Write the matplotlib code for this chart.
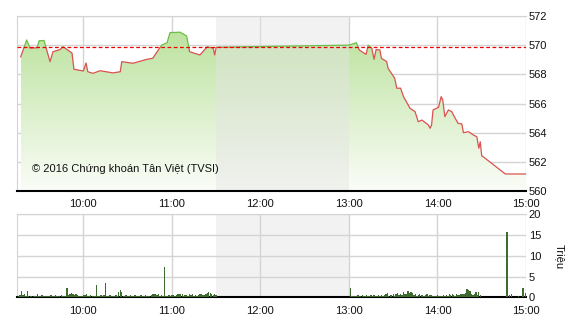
import matplotlib
matplotlib.use('Agg')
import matplotlib.pyplot as plt
from matplotlib.colors import LinearSegmentedColormap
import numpy as np

plt.rcParams['font.family'] = ['Liberation Sans', 'DejaVu Sans']

# index (VN-Index) intraday, time "HH:MM" (decimal minutes allowed)
price_times = ["09:17.5", "09:21.6", "09:23.8", "09:28.6", "09:30", "09:33.3", "09:37.4",
               "09:39.4", "09:44.2", "09:46.2", "09:52.3", "09:53.6", "10:00", "10:01.8",
               "10:03", "10:06.5", "10:11.3", "10:20", "10:25", "10:26", "10:33.6",
               "10:43", "10:47", "10:53", "10:56.7", "10:58.7", "11:05.5", "11:10",
               "11:12", "11:19", "11:24", "11:28", "11:29", "11:30",
               "13:00", "13:05", "13:07", "13:11.6", "13:13", "13:15.5", "13:17",
               "13:18.4", "13:21", "13:22", "13:25.6", "13:26.5", "13:31", "13:32.4",
               "13:35", "13:37", "13:41.4", "13:44.8", "13:47", "13:49.4", "13:53.8",
               "13:55", "13:56", "13:57", "14:00.7", "14:02.5", "14:03.6", "14:05",
               "14:07.4", "14:09.7", "14:12", "14:14", "14:16.5", "14:17.6", "14:21",
               "14:24.4", "14:26.7", "14:28", "14:29", "14:30", "14:31", "14:46", "15:00"]
price_values = [569.2, 570.36, 569.8, 569.82, 570.3, 570.32, 568.87,
                569.55, 569.7, 569.9, 569.46, 568.35, 568.23, 568.78,
                568.18, 568.07, 568.25, 568.1, 568.18, 568.87, 568.76,
                569.03, 569.1, 570.0, 570.17, 570.86, 570.89, 570.63,
                569.55, 569.33, 569.9, 569.79, 569.33, 569.86,
                570.0, 570.17, 569.67, 569.37, 570.0, 569.79, 569.03,
                569.7, 569.67, 569.1, 568.87, 568.42, 567.73, 567.05,
                567.05, 566.47, 565.67, 565.44, 564.75, 564.87, 564.53,
                564.3, 564.53, 565.56, 565.74, 566.47, 566.24, 565.1,
                565.56, 565.44, 564.99, 564.64, 564.6, 564.0, 564.07,
                563.84, 563.72, 562.93, 563.38, 562.4, 562.35, 561.17, 561.17]
ref_value = 569.86

# volume (million shares) per minute
vol_morning_start = "09:16"
vol_morning = [0.4, 0.6, 1.5, 0.5, 0.7, 0.3, 1.5, 0.3, 0.4, 0.3, 0.4, 0.3, 0.4, 0.8, 0.3,
               0.4, 0.5, 0.3, 0.4, 0.3, 0.4, 0.3, 0.5, 0.3, 0.4, 0.6, 0.3, 0.4, 0.3, 0.5,
               0.4, 0.3, 0.4, 2.2, 0.6, 0.9, 1.0, 0.8, 0.6, 0.9, 0.5, 0.3, 0.4, 0.3, 0.5,
               0.6, 0.8, 0.4, 0.3, 0.5, 0.4, 0.3, 0.4, 3.0, 0.4, 0.3, 0.5, 0.4, 0.6, 3.4,
               0.4, 0.3, 0.5, 0.4, 0.3, 0.4, 0.5, 0.4, 1.3, 1.8, 1.4, 0.4, 0.3, 0.5, 0.4,
               0.3, 0.6, 0.4, 0.3, 0.5, 0.4, 0.3, 0.4, 0.6, 0.3, 0.4, 0.5, 0.3, 0.4, 0.3,
               0.5, 0.8, 0.7, 0.9, 0.6, 0.8, 0.3, 0.5, 0.4, 7.2, 0.4, 0.3, 0.5, 0.4, 0.6,
               0.5, 0.4, 0.6, 0.8, 0.9, 0.8, 0.7, 0.4, 0.6, 0.5, 0.3, 0.7, 0.5, 0.9, 0.4,
               0.6, 0.3, 0.5, 0.7, 0.8, 0.5, 0.6, 0.9, 1.1, 1.2, 1.0, 0.8, 0.6, 0.7, 0.5]
vol_afternoon_start = "13:01"
vol_afternoon = [2.3, 0.4, 0.3, 0.4, 0.3, 0.5, 0.3, 0.4, 0.6, 0.3, 0.4, 0.5, 0.3, 0.4, 0.6,
                 0.3, 0.5, 0.4, 0.3, 0.6, 0.4, 0.5, 0.3, 0.6, 0.9, 1.1, 0.4, 0.6, 0.5, 0.8,
                 0.4, 0.7, 1.0, 0.5, 0.8, 0.6, 1.3, 0.7, 0.9, 1.5, 1.0, 1.2, 1.0, 0.5, 0.7,
                 0.4, 0.6, 0.8, 0.5, 0.6, 0.4, 0.5, 0.7, 0.4, 0.6, 0.5, 0.3, 0.4, 0.3, 0.5,
                 0.4, 0.3, 0.4, 0.6, 0.3, 0.5, 0.4, 0.7, 0.5, 0.8, 0.6, 0.4, 0.7, 0.5, 0.6,
                 0.9, 0.7, 0.8, 1.0, 2.0, 1.8, 1.6, 0.8, 0.5, 0.7, 1.2, 0.6, 1.2, 0.5]
vol_late_times = ["14:47", "14:49", "14:50", "14:55", "14:58", "15:00"]
vol_late_values = [15.7, 0.5, 0.7, 0.3, 2.3, 1.0]

hour_ticks = ["10:00", "11:00", "12:00", "13:00", "14:00", "15:00"]
price_ticks = [560, 562, 564, 566, 568, 570, 572]
vol_ticks = [0, 5, 10, 15, 20]
copyright_text = "© 2016 Chứng khoán Tân Việt (TVSI)"


def hm(s):
    h, m = s.split(':')
    return int(h) + float(m) / 60.0


def minute_series(start, values):
    t0 = hm(start)
    return [t0 + i / 60.0 for i in range(len(values))], values


px = np.array([hm(t) for t in price_times])
py = np.array(price_values)
xmin, xmax = hm("09:15"), hm("15:00")
grid_c = '#d4d4d4'

fig = plt.figure(figsize=(5.7, 3.2), dpi=100)
ax = fig.add_axes([0.0298, 0.403, 0.893, 0.547])
axv = fig.add_axes([0.0298, 0.0709, 0.893, 0.2594])

# ---- price panel
ax.set_xlim(xmin, xmax)
ax.set_ylim(560, 572)
grad = LinearSegmentedColormap.from_list('g', ['#fbfdf8', '#bbe29d'])
img = ax.imshow(np.linspace(0, 1, 256).reshape(-1, 1), extent=[px[0], xmax, 560, 571.2],
                origin='lower', aspect='auto', cmap=grad, zorder=1)
poly = ax.fill_between(px, 560, py, color='none', lw=0)
img.set_clip_path(poly.get_paths()[0], transform=ax.transData)
ax.axvspan(hm("11:30"), hm("13:00"), color='#e4e4e4', alpha=0.45, lw=0, zorder=2)

above, = ax.plot(px, py, color='#6cbf4a', lw=0.9, zorder=4)
below, = ax.plot(px, py, color='#d9534f', lw=0.9, zorder=4)
r1 = plt.Rectangle((xmin, ref_value), xmax - xmin, 10, transform=ax.transData)
r2 = plt.Rectangle((xmin, 550), xmax - xmin, ref_value - 550, transform=ax.transData)
above.set_clip_path(r1)
below.set_clip_path(r2)
ax.axhline(ref_value, color='#ee0000', lw=0.9, ls=(0, (3, 2)), zorder=5)

ax.text(hm("09:25"), 561.5, copyright_text, fontsize=8, color='#111111', va='center', zorder=6)

# ---- volume panel
axv.set_xlim(xmin, xmax)
axv.set_ylim(0, 20)
axv.axvspan(hm("11:30"), hm("13:00"), color='#f2f2f2', lw=0, zorder=0)
bar_c = '#3e6b30'
for start, vals in [(vol_morning_start, vol_morning), (vol_afternoon_start, vol_afternoon)]:
    bx, by = minute_series(start, vals)
    axv.bar(bx, by, width=0.95 / 60, color=bar_c, lw=0, zorder=3)
axv.bar([hm(t) for t in vol_late_times], vol_late_values, width=0.95 / 60, color=bar_c, lw=0, zorder=3)

for a, ticks in [(ax, price_ticks), (axv, vol_ticks)]:
    a.set_xticks([hm(t) for t in hour_ticks])
    a.set_xticklabels(hour_ticks)
    a.set_yticks(ticks)
    a.yaxis.tick_right()
    a.grid(True, color=grid_c, lw=1.0, zorder=0)
    a.set_axisbelow(True)
    a.tick_params(length=0, labelsize=8, colors='#111111')
    a.tick_params(axis='x', pad=6)
    a.tick_params(axis='y', pad=2)
    a.spines['right'].set_visible(False)
    a.spines['top'].set_color(grid_c)
    a.spines['left'].set_color(grid_c)
    a.spines['bottom'].set_color('black')
    a.spines['bottom'].set_linewidth(1.5)

fig.text(0.982, 0.197, "Triệu", rotation=270, fontsize=8, va='center', ha='center', color='#111111')

fig.savefig('out.png', dpi=100)
